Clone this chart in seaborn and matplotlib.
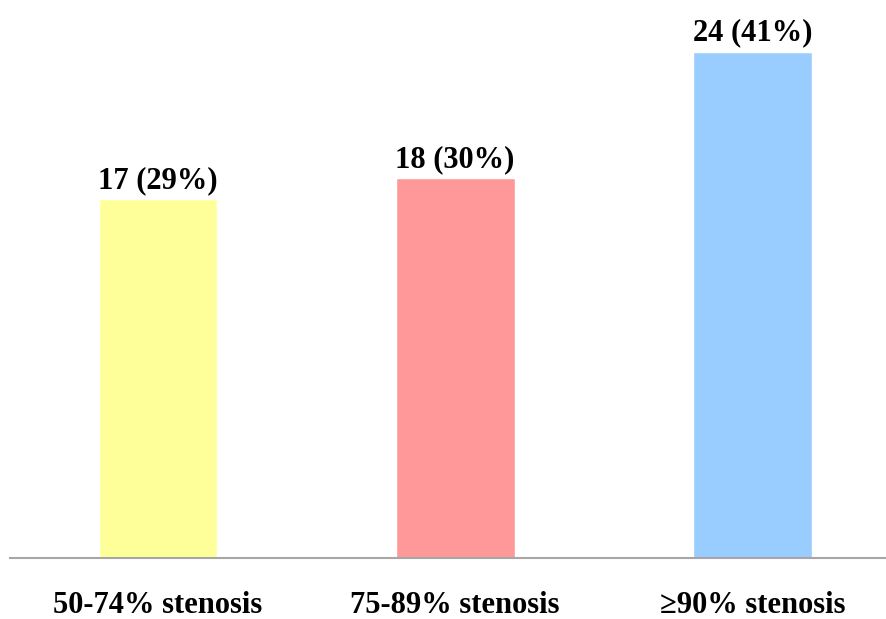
import matplotlib
matplotlib.use('Agg')
import matplotlib.pyplot as plt
import seaborn as sns
import pandas as pd

categories = ['50-74% stenosis', '75-89% stenosis', '\u226590% stenosis']
counts = [17, 18, 24]
percents = [29, 30, 41]
colors = ['#FFFF99', '#FF9999', '#99CCFF']

df = pd.DataFrame({'category': categories, 'count': counts})

sns.set_style('white')
plt.rcParams['font.family'] = ['Liberation Serif', 'DejaVu Serif']

fig = plt.figure(figsize=(8.86, 6.19), dpi=100)
ax = fig.add_axes([10 / 886, 1 - 558 / 619, 876 / 886, 558 / 619])

sns.barplot(data=df, x='category', y='count', hue='category', palette=colors,
            width=0.4, saturation=1, legend=False, ax=ax)

for i, (c, p) in enumerate(zip(counts, percents)):
    ax.annotate(f'{c} ({p}%)', (i, c), xytext=(0, 3), textcoords='offset points',
                ha='center', va='bottom', fontsize=22, fontweight='bold', color='black')

ax.set_xlim(-0.498, 2.45)
ax.set_ylim(0, 558 / 21.1)
ax.set_xlabel('')
ax.set_ylabel('')
ax.set_yticks([])
ax.tick_params(axis='x', length=0, pad=24, labelsize=22, labelcolor='black')
for lbl in ax.get_xticklabels():
    lbl.set_fontweight('bold')

for side in ['top', 'left', 'right']:
    ax.spines[side].set_visible(False)
ax.spines['bottom'].set_color('#A6A6A6')
ax.spines['bottom'].set_linewidth(1.5)

fig.savefig('out.png', dpi=100)
